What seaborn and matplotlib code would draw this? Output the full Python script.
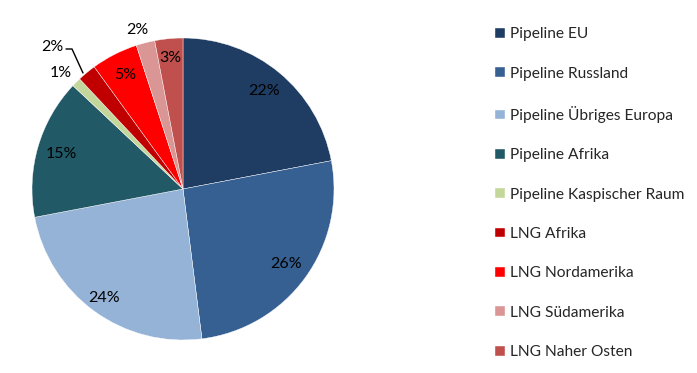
import numpy as np
import matplotlib
matplotlib.use("Agg")
import matplotlib.pyplot as plt
import seaborn as sns

categories = ["Pipeline EU", "Pipeline Russland", "Pipeline Übriges Europa",
              "Pipeline Afrika", "Pipeline Kaspischer Raum", "LNG Afrika",
              "LNG Nordamerika", "LNG Südamerika", "LNG Naher Osten"]
values = [22, 26, 24, 15, 1, 2, 5, 2, 3]
colors = ["#1F3D63", "#366092", "#95B3D7", "#215967", "#C4D79B",
          "#C00000", "#FF0000", "#DA9694", "#C0504D"]

sns.set_theme(style="white")
plt.rcParams["font.family"] = ["Lato", "DejaVu Sans"]

W, H = 697, 373
fig = plt.figure(figsize=(W / 100, H / 100), dpi=100)
cx, cy, R, s = 183, 189, 151, 1.2
ax = fig.add_axes([(cx - R * s) / W, (H - cy - R * s) / H, 2 * R * s / W, 2 * R * s / H])
wedges, _ = ax.pie(values, colors=colors, startangle=90, counterclock=False,
                   radius=1.0, wedgeprops=dict(edgecolor="white", linewidth=0.3))
ax.set_xlim(-s, s)
ax.set_ylim(-s, s)
ax.set_aspect("equal")
ax.axis("off")

def px(xp, yp):
    return (xp - cx) / R, (cy - yp) / R

# label radii (fraction of radius)
radii = [0.84, 0.84, 0.89, 0.84, 1.12, 1.28, 0.85, 1.10, 0.87]
fs = 11.5
for i, (w, v) in enumerate(zip(wedges, values)):
    ang = np.deg2rad((w.theta1 + w.theta2) / 2)
    r = radii[i]
    x, y = r * np.cos(ang), r * np.sin(ang)
    if i == 5:
        x, y = px(52, 47)
        p1 = px(66, 49)
        p2 = px(72, 49)
        p3 = px(83, 73)
        ax.plot([p1[0], p2[0], p3[0]], [p1[1], p2[1], p3[1]],
                color="black", lw=1.0, clip_on=False)
    if i == 4:
        x, y = px(61, 73)
    if i == 7:
        x, y = px(137, 30)
    ax.text(x, y, f"{v}%", ha="center", va="center", fontsize=fs,
            color="black", clip_on=False)

leg = fig.legend(wedges, categories, loc="upper left",
                 bbox_to_anchor=(489 / W, 1 - 21 / H), frameon=False,
                 fontsize=11.2, handlelength=0.6, handleheight=0.6,
                 handletextpad=0.38, labelspacing=1.63, borderaxespad=0)
fig.savefig("out.png", dpi=100)
